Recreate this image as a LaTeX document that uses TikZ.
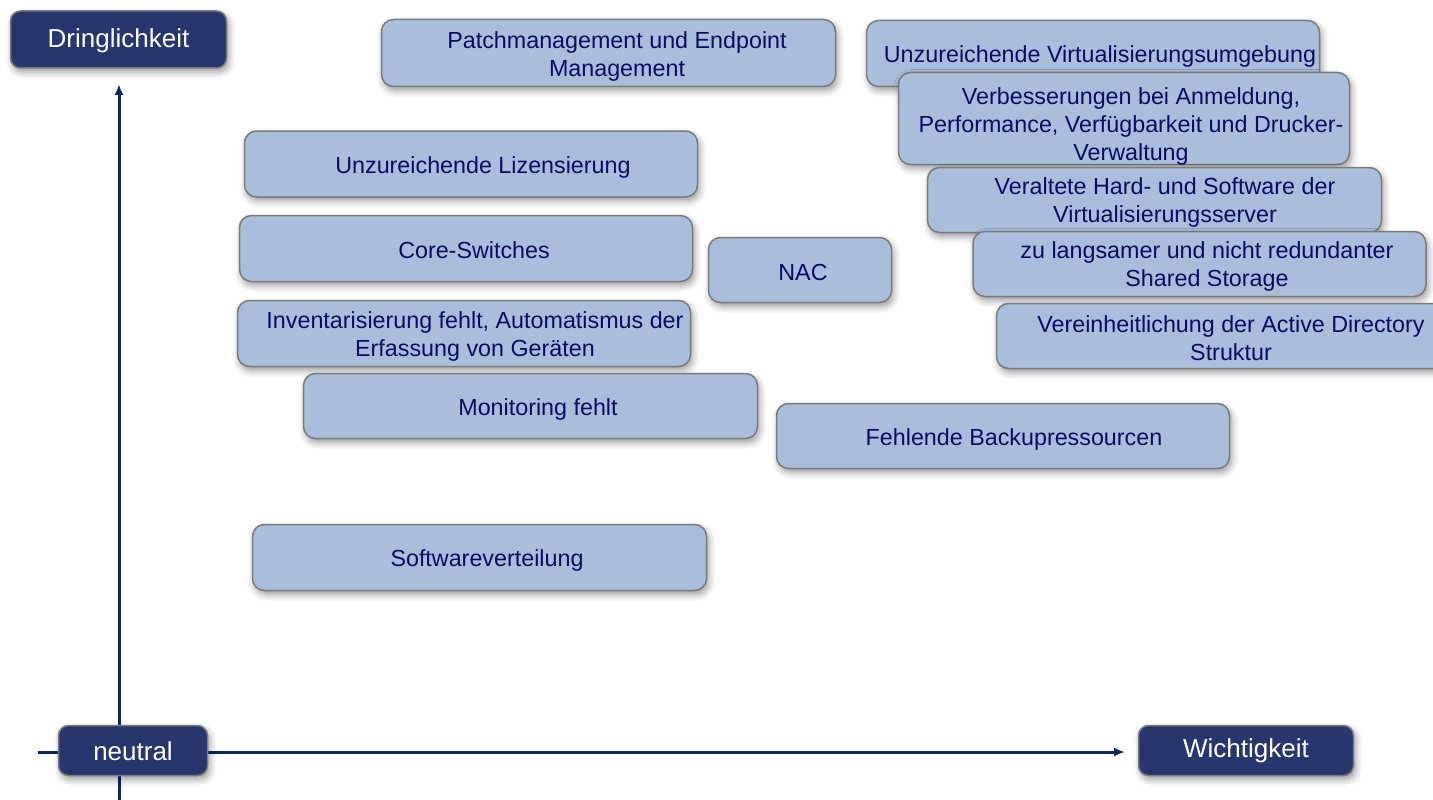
\documentclass[tikz,border=0pt]{standalone}
\usepackage{fontspec}
\setmainfont{Liberation Sans}
\usetikzlibrary{arrows.meta,shadows.blur}
\definecolor{boxfill}{HTML}{A9BEDB}
\definecolor{boxline}{HTML}{7A7A7A}
\definecolor{txtnavy}{HTML}{0A0A66}
\definecolor{darkbox}{HTML}{27366F}
\definecolor{axisnavy}{HTML}{0E2563}
\tikzset{
  shade/.style={blur shadow={shadow xshift=2pt, shadow yshift=-4pt, shadow blur radius=7pt, shadow opacity=40}},
  issue/.style={draw=boxline, line width=1.5pt, fill=boxfill, rounded corners=12pt, inner sep=0pt, shade},
  itxt/.style={text=txtnavy, font=\fontsize{23.3}{28}\selectfont, align=center, inner sep=0pt},
  label/.style={draw=boxline, line width=1.5pt, fill=darkbox, rounded corners=10pt, inner sep=0pt, shade},
  ltxt/.style={text=white, font=\fontsize{26}{30}\selectfont, inner sep=0pt},
  axis/.style={draw=axisnavy, line width=3pt, -{Latex[length=11pt,width=9pt]}}
}
\begin{document}
\begin{tikzpicture}[x=1pt,y=-1pt]
\useasboundingbox (0,0) rectangle (1433,800);
% axes
\coordinate (ybot) at (119,800);
\coordinate (ytop) at (119,84);
\coordinate (xleft) at (38,752);
\coordinate (xright) at (1125,752);
\draw[axis] (ybot) -- (ytop);
\draw[axis] (xleft) -- (xright);
% axis labels
\node[label, minimum width=216pt, minimum height=57pt] (dring) at (118.5,39.5) {};
\node[ltxt] (dringT) at (118.5,41) {Dringlichkeit};
\node[label, minimum width=149pt, minimum height=50pt] (neutral) at (133,750.5) {};
\node[ltxt] (neutralT) at (133,751) {neutral};
\node[label, minimum width=215pt, minimum height=50pt] (wicht) at (1246,750.5) {};
\node[ltxt] (wichtT) at (1246,751) {Wichtigkeit};
% issue boxes
\node[issue, minimum width=454pt, minimum height=67pt] (patch) at (608.5,53) {};
\node[itxt] (patchT) at (617,56) {Patchmanagement und Endpoint\\Management};

\node[issue, minimum width=453pt, minimum height=66pt] (lizenz) at (471,164) {};
\node[itxt] (lizenzT) at (483,167) {Unzureichende Lizensierung};

\node[issue, minimum width=453pt, minimum height=66pt] (core) at (466,248.5) {};
\node[itxt] (coreT) at (474,250) {Core-Switches};

\node[issue, minimum width=183pt, minimum height=65pt] (nac) at (800,270) {};
\node[itxt] (nacT) at (803,272) {NAC};

\node[issue, minimum width=453pt, minimum height=66pt] (inv) at (464,333.5) {};
\node[itxt] (invT) at (475,336) {Inventarisierung fehlt, Automatismus der\\Erfassung von Geräten};

\node[issue, minimum width=454pt, minimum height=65pt] (mon) at (530.5,406) {};
\node[itxt] (monT) at (538,409) {Monitoring fehlt};

\node[issue, minimum width=453pt, minimum height=65pt] (backup) at (1003,436) {};
\node[itxt] (backupT) at (1014,439) {Fehlende Backupressourcen};

\node[issue, minimum width=454pt, minimum height=66pt] (soft) at (479.5,557.5) {};
\node[itxt] (softT) at (487,560) {Softwareverteilung};

\node[issue, minimum width=453pt, minimum height=66pt] (virt) at (1093,53.5) {};
\node[itxt] (virtT) at (1100,56) {Unzureichende Virtualisierungsumgebung};

\node[issue, minimum width=451pt, minimum height=92pt] (verb) at (1124,118.5) {};
\node[itxt] (verbT) at (1131,126) {Verbesserungen bei Anmeldung,\\Performance, Verfügbarkeit und Drucker-\\Verwaltung};

\node[issue, minimum width=454pt, minimum height=65pt] (veralt) at (1154.5,200) {};
\node[itxt] (veraltT) at (1165,202) {Veraltete Hard- und Software der\\Virtualisierungsserver};

\node[issue, minimum width=453pt, minimum height=65pt] (storage) at (1199.5,264) {};
\node[itxt] (storageT) at (1207,266) {zu langsamer und nicht redundanter\\Shared Storage};

\node[issue, minimum width=453pt, minimum height=65pt] (ad) at (1223,336) {};
\node[itxt] (adT) at (1231,338) {Vereinheitlichung der Active Directory\\Struktur};
\end{tikzpicture}
\end{document}
